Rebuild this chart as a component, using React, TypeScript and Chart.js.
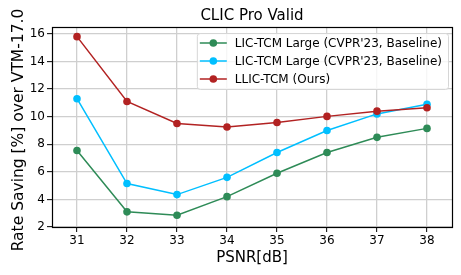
import React, { useEffect, useRef } from "react";
import { Chart, registerables } from "chart.js";

Chart.register(...registerables);

const psnr = [31, 32, 33, 34, 35, 36, 37, 38];
const licTcmA = [7.55, 3.1, 2.85, 4.2, 5.9, 7.4, 8.5, 9.15];
const licTcmB = [11.3, 5.15, 4.35, 5.6, 7.4, 9.0, 10.2, 10.9];
const llicTcm = [15.8, 11.1, 9.5, 9.25, 9.58, 10.02, 10.4, 10.65];
const seriesLabels = [
  "LIC-TCM Large (CVPR'23, Baseline)",
  "LIC-TCM Large (CVPR'23, Baseline)",
  "LLIC-TCM (Ours)",
];
const xTicks = [31, 32, 33, 34, 35, 36, 37, 38];
const yTicks = [2, 4, 6, 8, 10, 12, 14, 16];
const titleText = "CLIC Pro Valid";
const xTitle = "PSNR[dB]";
const yTitle = "Rate Saving [%] over VTM-17.0";

const FONT = "'DejaVu Sans', sans-serif";
const colors = ["#2e8b57", "#00bfff", "#b22222"];

export default function App() {
  const ref = useRef<HTMLCanvasElement | null>(null);
  useEffect(() => {
    document.body.style.margin = "0";
    const canvas = ref.current!;
    const toPts = (ys: number[]) => psnr.map((x, i) => ({ x, y: ys[i] }));
    const allSeries = [licTcmA, licTcmB, llicTcm];

    const decor = {
      id: "decor",
      afterDraw(chart: any) {
        const ctx = chart.ctx;
        const a = chart.chartArea;
        ctx.save();
        // frame
        ctx.strokeStyle = "#000";
        ctx.lineWidth = 1.2;
        ctx.strokeRect(Math.round(a.left) + 0.5, Math.round(a.top) + 0.5, Math.round(a.right - a.left), Math.round(a.bottom - a.top));
        // title
        ctx.fillStyle = "#000";
        ctx.font = `15px ${FONT}`;
        ctx.textAlign = "center";
        ctx.textBaseline = "alphabetic";
        ctx.fillText(titleText, (a.left + a.right) / 2, 20);
        // x title
        ctx.fillText(xTitle, (a.left + a.right) / 2, 262);
        // y title
        ctx.save();
        ctx.translate(23, (a.top + a.bottom) / 2 + 3);
        ctx.rotate(-Math.PI / 2);
        ctx.font = `15.5px ${FONT}`;
        ctx.fillText(yTitle, 0, 0);
        ctx.restore();
        // legend
        ctx.font = `12px ${FONT}`;
        let maxW = 0;
        seriesLabels.forEach((t) => (maxW = Math.max(maxW, ctx.measureText(t).width)));
        const rowH = 18;
        const boxW = 38 + maxW + 6;
        const boxH = rowH * seriesLabels.length + 2;
        const bx = a.right - 4 - boxW;
        const by = a.top + 6;
        ctx.beginPath();
        if ((ctx as any).roundRect) (ctx as any).roundRect(bx + 0.5, by + 0.5, boxW, boxH, 3);
        else ctx.rect(bx + 0.5, by + 0.5, boxW, boxH);
        ctx.fillStyle = "rgba(255,255,255,0.8)";
        ctx.fill();
        ctx.strokeStyle = "#d6d6d6";
        ctx.lineWidth = 1;
        ctx.stroke();
        seriesLabels.forEach((t, i) => {
          const cy = by + 10 + i * rowH;
          ctx.strokeStyle = colors[i];
          ctx.lineWidth = 1.5;
          ctx.beginPath();
          ctx.moveTo(bx + 3, cy);
          ctx.lineTo(bx + 30, cy);
          ctx.stroke();
          ctx.fillStyle = colors[i];
          ctx.beginPath();
          ctx.arc(bx + 16.5, cy, 3.8, 0, Math.PI * 2);
          ctx.fill();
          ctx.fillStyle = "#000";
          ctx.textAlign = "left";
          ctx.textBaseline = "middle";
          ctx.fillText(t, bx + 38, cy + 0.5);
        });
        ctx.restore();
      },
    };

    const chart = new Chart(canvas, {
      type: "line",
      data: {
        datasets: allSeries.map((ys, i) => ({
          label: seriesLabels[i],
          data: toPts(ys),
          borderColor: colors[i],
          backgroundColor: colors[i],
          pointBackgroundColor: colors[i],
          pointBorderWidth: 0,
          pointRadius: 3.8,
          borderWidth: 1.5,
          tension: 0,
          order: 2 - i,
        })),
      },
      options: {
        animation: false,
        responsive: false,
        devicePixelRatio: 1,
        layout: { padding: { top: 27, right: 9, left: 0, bottom: 0 } },
        plugins: {
          legend: { display: false },
          title: { display: false },
          tooltip: { enabled: false },
        },
        scales: {
          x: {
            type: "linear",
            min: 30.5,
            max: 38.5,
            afterBuildTicks: (s: any) => {
              s.ticks = xTicks.map((v) => ({ value: v }));
            },
            afterFit: (s: any) => {
              s.height = 48;
            },
            grid: { color: "#cfcfcf", lineWidth: 1.3, tickColor: "#000", tickLength: 5, tickWidth: 1 },
            border: { display: false },
            ticks: { color: "#000", font: { family: FONT, size: 12 }, padding: 2, maxRotation: 0 },
          },
          y: {
            type: "linear",
            min: 2,
            max: 16.5,
            afterBuildTicks: (s: any) => {
              s.ticks = yTicks.map((v) => ({ value: v }));
            },
            afterFit: (s: any) => {
              s.width = 52;
            },
            grid: { color: "#cfcfcf", lineWidth: 1.3, tickColor: "#000", tickLength: 5, tickWidth: 1 },
            border: { display: false },
            ticks: { color: "#000", font: { family: FONT, size: 12 }, padding: 2 },
          },
        },
      },
      plugins: [decor],
    } as any);
    return () => chart.destroy();
  }, []);
  return <canvas ref={ref} width={461} height={275} style={{ display: "block" }} />;
}
